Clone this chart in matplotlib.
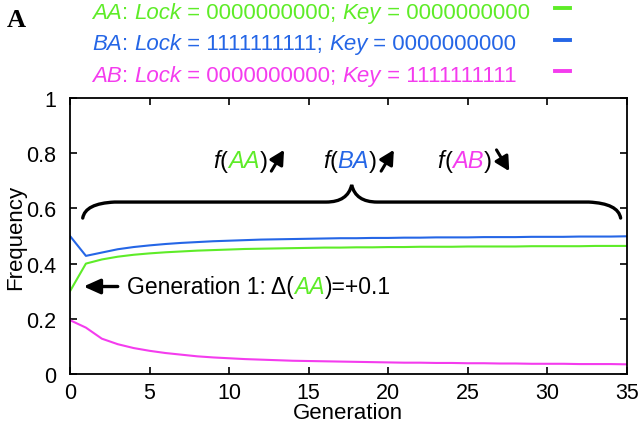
import matplotlib
matplotlib.use("Agg")
import matplotlib.pyplot as plt
from matplotlib.path import Path
from matplotlib.patches import PathPatch
from matplotlib.lines import Line2D

plt.rcParams['font.family'] = ['Liberation Sans', 'DejaVu Sans']

generations = list(range(36))
freq_AA = [0.300, 0.400, 0.415, 0.425, 0.432, 0.437, 0.441, 0.444, 0.447, 0.449,
           0.451, 0.453, 0.454, 0.455, 0.456, 0.457, 0.458, 0.458, 0.459, 0.459,
           0.460, 0.460, 0.461, 0.461, 0.461, 0.462, 0.462, 0.462, 0.462, 0.463,
           0.463, 0.463, 0.463, 0.464, 0.464, 0.464]
freq_BA = [0.500, 0.428, 0.440, 0.452, 0.460, 0.466, 0.471, 0.475, 0.478, 0.481,
           0.483, 0.485, 0.487, 0.488, 0.489, 0.490, 0.491, 0.492, 0.492, 0.493,
           0.493, 0.494, 0.494, 0.495, 0.495, 0.495, 0.496, 0.496, 0.496, 0.497,
           0.497, 0.497, 0.498, 0.498, 0.498, 0.499]
freq_AB = [0.195, 0.168, 0.128, 0.108, 0.094, 0.084, 0.076, 0.070, 0.064, 0.060,
           0.057, 0.054, 0.052, 0.050, 0.048, 0.047, 0.046, 0.045, 0.044, 0.043,
           0.042, 0.041, 0.041, 0.040, 0.040, 0.039, 0.039, 0.038, 0.038, 0.037,
           0.037, 0.037, 0.036, 0.036, 0.036, 0.035]

x_ticks = [0, 5, 10, 15, 20, 25, 30, 35]
y_ticks = [0, 0.2, 0.4, 0.6, 0.8, 1]
y_tick_labels = ['0', '0.2', '0.4', '0.6', '0.8', '1']

C_AA = '#5eec28'
C_BA = '#2566e6'
C_AB = '#f43cee'

legend_rows = [
    ('AA', C_AA, '0000000000', '0000000000'),
    ('BA', C_BA, '1111111111', '0000000000'),
    ('AB', C_AB, '0000000000', '1111111111'),
]

fig = plt.figure(figsize=(6.4, 4.35), dpi=100)
ax = fig.add_axes([70/640, 60/435, 557/640, 276/435])

ax.plot(generations, freq_AA, color=C_AA, lw=1.5)
ax.plot(generations, freq_BA, color=C_BA, lw=1.5)
ax.plot(generations, freq_AB, color=C_AB, lw=1.5)

ax.set_xlim(0, 35)
ax.set_ylim(0, 1)
ax.set_xticks(x_ticks)
ax.set_yticks(y_ticks)
ax.set_yticklabels(y_tick_labels)
ax.tick_params(direction='in', top=True, right=True, length=5, width=1.2,
               labelsize=15.5)
ax.tick_params(axis='x', pad=6)
ax.tick_params(axis='y', pad=10)
for s in ax.spines.values():
    s.set_linewidth(1.3)
fig.text(348/640, 1 - 414/435, 'Generation', fontsize=16, ha='center', va='center')
fig.text(16/640, 1 - 237/435, 'Frequency', fontsize=16, ha='center', va='center',
         rotation=90)

# brace
bx0, bx1, bmid = 0.8, 34.6, 17.7
yb, yl, yp = 0.565, 0.623, 0.685
r = 2.0
verts = [(bx0, yb), (bx0 + 0.15, yl - 0.005), (bx0 + r, yl),
         (bmid - 1.6, yl), (bmid - 0.25, yl), (bmid, yp),
         (bmid + 0.25, yl), (bmid + 1.6, yl),
         (bx1 - r, yl), (bx1 - 0.15, yl - 0.005), (bx1, yb)]
codes = [Path.MOVETO, Path.CURVE3, Path.CURVE3,
         Path.LINETO, Path.CURVE3, Path.CURVE3,
         Path.CURVE3, Path.CURVE3,
         Path.LINETO, Path.CURVE3, Path.CURVE3]
ax.add_patch(PathPatch(Path(verts, codes), fill=False, lw=2.4, color='black',
                       capstyle='round'))


def chain(parts, x, y, size):
    prev = None
    for txt, color, style in parts:
        if prev is None:
            prev = ax.annotate(txt, xy=(x, y), xycoords='data', color=color,
                               fontsize=size, style=style, va='baseline', ha='left')
        else:
            prev = ax.annotate(txt, xy=(1, y), xycoords=(prev, 'data'), color=color,
                               fontsize=size, style=style, va='baseline', ha='left')
    return prev


arrow_kw = dict(arrowstyle='-|>,head_length=0.85,head_width=0.45', color='black',
                lw=2.2, shrinkA=0, shrinkB=0)
for xs, name, col, up in [(9.0, 'AA', C_AA, True), (15.9, 'BA', C_BA, True),
                          (23.1, 'AB', C_AB, False)]:
    chain([('f', 'black', 'italic'), ('(', 'black', 'normal'),
           (name, col, 'italic'), (')', 'black', 'normal')], xs, 0.75, 17)
    if up:
        ax.annotate('', xy=(xs + 4.45, 0.812), xytext=(xs + 3.65, 0.735),
                    arrowprops=arrow_kw)
    else:
        ax.annotate('', xy=(xs + 4.5, 0.735), xytext=(xs + 3.7, 0.812),
                    arrowprops=arrow_kw)

# generation 1 annotation
ax.annotate('', xy=(0.85, 0.317), xytext=(3.0, 0.317),
            arrowprops=dict(arrowstyle='-|>,head_length=1.0,head_width=0.45',
                            color='black', lw=2.4, shrinkA=0, shrinkB=0))
chain([('Generation 1: \u0394(', 'black', 'normal'), ('AA', C_AA, 'italic'),
       (')=+0.1', 'black', 'normal')], 3.6, 0.292, 16.5)

# header legend
fig.text(7/640, 1 - 27/435, 'A', fontsize=19, fontweight='bold',
         family='Liberation Serif')
baselines = [416, 385, 353]
dash_y = [426, 394, 363]
for (name, col, lock, key), yb_px, dy in zip(legend_rows, baselines, dash_y):
    prev = None
    parts = [(name, 'italic'), (': ', 'normal'), ('Lock', 'italic'),
             (' = ' + lock + '; ', 'normal'), ('Key', 'italic'), (' = ' + key, 'normal')]
    for txt, style in parts:
        if prev is None:
            prev = fig.text(92/640, yb_px/435, txt, color=col, fontsize=16, style=style,
                            va='baseline', ha='left')
        else:
            prev = ax.annotate(txt, xy=(1, yb_px), xycoords=(prev, 'figure pixels'),
                               color=col, fontsize=16, style=style, va='baseline',
                               ha='left', annotation_clip=False)
    fig.add_artist(Line2D([555/640, 570/640], [dy/435] * 2, color=col, lw=2.8))

fig.savefig('out.png', dpi=100)
